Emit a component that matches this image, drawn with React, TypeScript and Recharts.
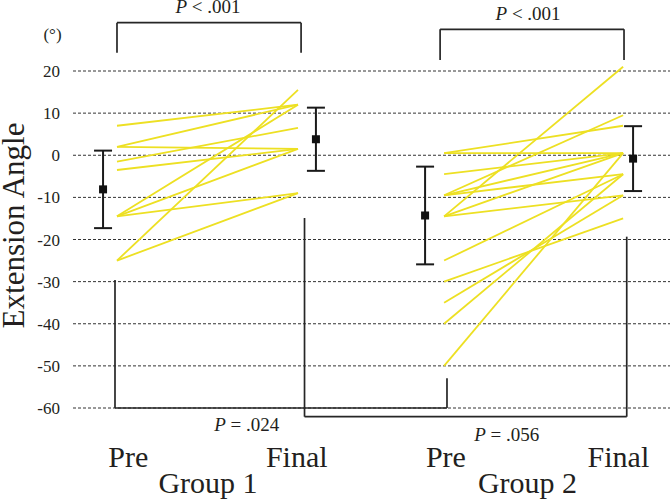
import React from 'react';
import {
  ComposedChart,
  Line,
  Scatter,
  ErrorBar,
  XAxis,
  YAxis,
  CartesianGrid,
  ReferenceLine,
  ReferenceDot,
} from 'recharts';

// ---------- data ----------
const categories = ['Pre', 'Final', 'Pre', 'Final'];
const groupNames = ['Group 1', 'Group 2'];
const yTicks = [-60, -50, -40, -30, -20, -10, 0, 10, 20];

const g1Pre = [7, 2, 2, -1.5, -3.5, -14.5, -14.5, -14.5, -25, -25];
const g1Final = [12, 12, 1.5, 6.5, 1.5, 12, 1.5, -9, 15.5, -9];

const g2Pre = [0.5, 0.5, -4.5, -9.5, -9.5, -9.5, -14.5, -14.5, -14.5, -25, -30, -35, -40, -50];
const g2Final = [7, 0.5, 0.5, 9.5, 0.5, -4.5, 21, -9.5, 0.5, -4.5, -15, -9.5, -4.5, 0.5];

const meanValues = [-8.1, 3.8, -14.3, -0.8];
const sdValues = [9.2, 7.5, 11.6, 7.7];

const pTexts = ['< .001', '< .001', '= .024', '= .056'];

// ---------- layout (axis units) ----------
const CAT_X = [1, 2, 2.807, 3.796];
const MEAN_X = [0.923, 2.099, 2.702, 3.851];
const LABEL_X = [1.062, 1.993, 2.817, 3.77];
const GROUP_X = [1.503, 3.268];
const X_DOMAIN: [number, number] = [0.757, 4.055];
const Y_DOMAIN: [number, number] = [-64, 24];

const BRACKETS: number[][][] = [
  [[1.0, 24.34], [1.0, 31.47], [2.017, 31.47], [2.017, 24.34]],
  [[2.785, 22.6], [2.785, 29.9], [3.801, 29.9], [3.801, 22.6]],
  [[0.989, -29.6], [0.989, -60], [2.823, -60], [2.823, -52.95]],
  [[2.036, -14.9], [2.036, -62.07], [3.816, -62.07], [3.816, -19.33]],
];
const P_POS = [
  [1.503, 33.84],
  [3.271, 32.1],
  [1.717, -65.5],
  [3.153, -67.83],
];

const FONT = "'Liberation Serif','Times New Roman',serif";
const TEXT = '#231f20';
const YELLOW = '#EDE023';
const DARK = '#262626';

const pairs: { key: string; data: { x: number; y: number }[] }[] = [];
g1Pre.forEach((v, i) =>
  pairs.push({ key: 'g1-' + i, data: [{ x: CAT_X[0], y: v }, { x: CAT_X[1], y: g1Final[i] }] })
);
g2Pre.forEach((v, i) =>
  pairs.push({ key: 'g2-' + i, data: [{ x: CAT_X[2], y: v }, { x: CAT_X[3], y: g2Final[i] }] })
);

const summary = meanValues.map((m, i) => ({ x: MEAN_X[i], y: m, err: sdValues[i] }));

const SquareShape = (props: any) => {
  const { cx, cy } = props;
  if (cx == null || cy == null) return null;
  return <rect x={cx - 4} y={cy - 4} width={8} height={8} fill="#111" />;
};

const makePLabel = (rest: string) => (props: any) => {
  const vb = props.viewBox || {};
  const x = (vb.x ?? props.x ?? 0) + (vb.width ?? 0) / 2;
  const y = (vb.y ?? props.y ?? 0) + (vb.height ?? 0) / 2;
  return (
    <text x={x} y={y} textAnchor="middle" fontFamily={FONT} fontSize={19} fill={TEXT}>
      <tspan fontStyle="italic">P</tspan>
      <tspan>{' ' + rest}</tspan>
    </text>
  );
};

const yLabel = (props: any) => {
  const vb = props.viewBox || { x: 0, y: 0 };
  const lx = vb.x + 24;
  const ly = 225.5;
  return (
    <g>
      <text
        x={lx}
        y={ly}
        transform={`rotate(-90, ${lx}, ${ly})`}
        textAnchor="middle"
        fontFamily={FONT}
        fontSize={31}
        fill={TEXT}
      >
        Extension Angle
      </text>
      <text x={vb.x + 52.5} y={40} textAnchor="middle" fontFamily={FONT} fontSize={17} fill={TEXT}>
        (°)
      </text>
    </g>
  );
};

export default function App() {
  return (
    <div style={{ position: 'absolute', left: 0, top: 0, width: 670, height: 501, background: '#fff' }}>
      <ComposedChart
        width={670}
        height={501}
        margin={{ top: 54.15, right: 0, bottom: 0, left: 0 }}
      >
        <CartesianGrid
          horizontal
          vertical={false}
          syncWithTicks
          stroke="#333"
          strokeDasharray="3 2"
        />
        <XAxis
          type="number"
          dataKey="x"
          domain={X_DOMAIN}
          allowDataOverflow
          ticks={LABEL_X}
          interval={0}
          tickFormatter={(_v: number, i: number) => categories[i]}
          axisLine={false}
          tickLine={false}
          tickSize={0}
          tickMargin={20.5}
          height={40}
          tick={{ fontSize: 30, fontFamily: FONT, fill: TEXT }}
        />
        <XAxis
          xAxisId="grp"
          type="number"
          dataKey="x"
          domain={X_DOMAIN}
          allowDataOverflow
          ticks={GROUP_X}
          interval={0}
          tickFormatter={(_v: number, i: number) => groupNames[i]}
          axisLine={false}
          tickLine={false}
          tickSize={0}
          tickMargin={7.2}
          height={36.15}
          tick={{ fontSize: 30, fontFamily: FONT, fill: TEXT }}
        />
        <YAxis
          type="number"
          dataKey="y"
          domain={Y_DOMAIN}
          allowDataOverflow
          ticks={yTicks}
          interval={0}
          axisLine={false}
          tickLine={false}
          tickSize={0}
          tickMargin={13}
          width={73}
          tick={{ fontSize: 17, fontFamily: FONT, fill: TEXT }}
          label={yLabel}
        />
        {pairs.map((p) => (
          <Line
            key={p.key}
            data={p.data}
            dataKey="y"
            stroke={YELLOW}
            strokeWidth={1.8}
            dot={false}
            activeDot={false}
            isAnimationActive={false}
          />
        ))}
        <Scatter data={summary} dataKey="y" shape={SquareShape} isAnimationActive={false}>
          <ErrorBar dataKey="err" direction="y" width={9} stroke="#1a1a1a" strokeWidth={2} />
        </Scatter>
        {BRACKETS.map((pts, bi) =>
          pts.slice(1).map((pt, si) => (
            <ReferenceLine
              key={`b${bi}-${si}`}
              segment={[
                { x: pts[si][0], y: pts[si][1] },
                { x: pt[0], y: pt[1] },
              ]}
              stroke={DARK}
              strokeWidth={1.7}
              ifOverflow="visible"
            />
          ))
        )}
        {P_POS.map((pos, i) => (
          <ReferenceDot
            key={`p${i}`}
            x={pos[0]}
            y={pos[1]}
            r={0}
            fill="none"
            stroke="none"
            ifOverflow="visible"
            label={makePLabel(pTexts[i])}
          />
        ))}
      </ComposedChart>
    </div>
  );
}
